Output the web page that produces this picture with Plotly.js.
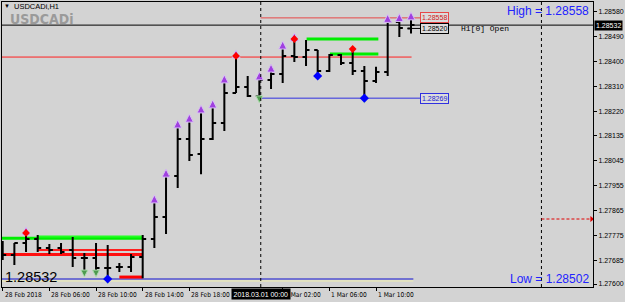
<!DOCTYPE html>
<html><head><meta charset="utf-8">
<script src="https://cdn.plot.ly/plotly-3.0.1.min.js"></script>
<style>html,body{margin:0;padding:0;background:#d3d3d3;}#chart{width:625px;height:302px;}</style>
</head><body><div id="chart"></div>
<script>
// ---- data (USDCADi, H1) ----
const barIndex = [0,1,2,3,4,5,6,7,8,9,10,11,12,13,14,15,16,17,18,19,20,21,22,23,24,25,26,27,28,29,30,31,32,33,34,35];
const openP  = [1.27730,1.27704,1.27748,1.27762,1.27730,1.27730,1.27722,1.27694,1.27694,1.27658,1.27661,1.27661,1.27697,1.27762,1.27841,1.27989,1.28122,1.28068,1.28122,1.28180,1.28288,1.28309,1.28277,1.28334,1.28356,1.28421,1.28417,1.28442,1.28367,1.28424,1.28396,1.28367,1.28331,1.28363,1.28543,1.28520];
const highP  = [1.27755,1.27748,1.27784,1.27776,1.27744,1.27748,1.27769,1.27712,1.27748,1.27740,1.27676,1.27708,1.27776,1.27899,1.27992,1.28169,1.28190,1.28223,1.28241,1.28331,1.28421,1.28349,1.28342,1.28370,1.28453,1.28482,1.28478,1.28442,1.28428,1.28428,1.28446,1.28385,1.28382,1.28549,1.28552,1.28558];
const lowP   = [1.27686,1.27668,1.27715,1.27715,1.27708,1.27708,1.27661,1.27643,1.27643,1.27618,1.27643,1.27643,1.27621,1.27730,1.27780,1.27946,1.28043,1.27995,1.28118,1.28151,1.28288,1.28273,1.28270,1.28302,1.28324,1.28399,1.28385,1.28349,1.28363,1.28388,1.28352,1.28269,1.28324,1.28349,1.28489,1.28502];
const closeP = [1.27704,1.27748,1.27762,1.27730,1.27722,1.27715,1.27694,1.27694,1.27658,1.27658,1.27661,1.27697,1.27762,1.27841,1.27989,1.28122,1.28064,1.28122,1.28180,1.28288,1.28309,1.28277,1.28334,1.28356,1.28421,1.28417,1.28442,1.28367,1.28424,1.28396,1.28367,1.28331,1.28363,1.28543,1.28522,1.28532];

const fractalUpBars   = [2,13,14,15,16,17,18,19,20,22,23,24,25,33,34,35];
const fractalDownBars = [7,8,9,22,31];
const swingHighBars   = [2,20,25,30];
const swingLowBars    = [9,27,31];

const xTickVals = [0,4,8,12,16,24,28,32];
const xTickText = ["28 Feb 2018","28 Feb 06:00","28 Feb 10:00","28 Feb 14:00","28 Feb 18:00","1 Mar 02:00","1 Mar 06:00","1 Mar 10:00"];
const yTickVals = [1.28580,1.28490,1.28400,1.28310,1.28220,1.28135,1.28045,1.27955,1.27865,1.27775,1.27685,1.27600];
const yTickText = ["1.28580","1.28490","1.28400","1.28310","1.28220","1.28135","1.28045","1.27955","1.27865","1.27775","1.27685","1.27600"];

const symbolName = "USDCADi";
const chartTitle = "USDCADi,H1";
const crossTimeLabel = "2018.03.01 00:00";
const dayStartBar = 22;
const dayHigh = 1.28558, dayLow = 1.28269;
const bidPrice = 1.28532, barOpenPrice = 1.28520, barLowPrice = 1.28502;
const pivotLevel = 1.28417;
const bottomLevel = 1.27618;
const alertLevel = 1.27834;
const zoneGreenLow = [1.27765, 1.27771];
const zoneRedLow = [1.27706, 1.27722];
const zoneRedShort = 1.27625;
const zoneGreenHigh = [1.28482, 1.28428];
const futureBar = 46.18;

// ---- geometry helpers (plot area 2..593 x, 2..287 y) ----
const PL=2, PR=593, PT=2, PB=287;
const px = v => (v-PL)/(PR-PL);
const py = v => (PB-v)/(PB-PT);
const XR = [-0.06, 50.6];
const YR = [1.275892, 1.286152];
const tick = 0.000036; // price per pixel

const FONT = "Liberation Sans, Arial, sans-serif";
const NARROW = "Liberation Sans Narrow, DejaVu Sans Condensed, Liberation Sans, sans-serif";

const traces = [
  {type:'ohlc', x:barIndex, open:openP, high:highP, low:lowP, close:closeP,
   increasing:{line:{color:'#000', width:2}}, decreasing:{line:{color:'#000', width:2}},
   tickwidth:0.3, hoverinfo:'skip'},
  {type:'scatter', mode:'markers', x:fractalUpBars, y:fractalUpBars.map(i=>highP[i]+6*tick),
   marker:{symbol:'arrow-up', size:8, color:'#a040e0', line:{color:'#d8c0f4', width:1}}, hoverinfo:'skip'},
  {type:'scatter', mode:'markers', x:fractalDownBars, y:fractalDownBars.map(i=>lowP[i]-5*tick),
   marker:{symbol:'arrow-down', size:7, color:'#4e9a4e', line:{color:'#b0dcb0', width:1}}, hoverinfo:'skip'},
  {type:'scatter', mode:'markers', x:swingHighBars, y:swingHighBars.map(i=>highP[i]),
   marker:{symbol:'diamond', size:6, color:'#ff0000', line:{width:0}}, hoverinfo:'skip'},
  {type:'scatter', mode:'markers', x:swingLowBars, y:swingLowBars.map(i=>lowP[i]),
   marker:{symbol:'diamond', size:7, color:'#0000ff', line:{width:0}}, hoverinfo:'skip'},
  {type:'scatter', mode:'markers', x:[XR[1]-0.12], y:[alertLevel], cliponaxis:false,
   marker:{symbol:'triangle-right', size:5, color:'#e00000'}, hoverinfo:'skip'}
];

const L = (x0,x1,y,color,width,dash) => ({type:'line', xref:'x', yref:'y', x0, x1, y0:y, y1:y, line:{color, width, dash:dash||'solid'}, layer:'below'});
const lastBar = barIndex[barIndex.length-1];
const shapes = [
  L(XR[0], lastBar+0.05, pivotLevel, '#ff2020', 1),
  L(XR[0], lastBar+0.2, bottomLevel, '#1010d0', 1.2),
  L(XR[0], lastBar+0.2, bottomLevel-2*tick, '#f0f0b0', 1),
  {type:'line', xref:'paper', yref:'y', x0:0, x1:1, y0:bidPrice, y1:bidPrice, line:{color:'#000', width:1}, layer:'below'},
  L(dayStartBar+0.1, lastBar+0.8, dayHigh, '#e84848', 1),
  L(dayStartBar+0.1, lastBar+0.8, dayLow, '#3030e0', 1),
  L(lastBar-0.3, lastBar+0.8, barOpenPrice, '#000', 1),
  L(XR[0], 12, zoneGreenLow[0], '#00ee00', 3),
  L(3, 12, zoneGreenLow[1], '#22ff22', 2),
  L(XR[0], 12, zoneRedLow[0], '#ff1010', 3),
  L(3, 12, zoneRedLow[1], '#ff2020', 2),
  L(10, 12, zoneRedShort, '#ff0000', 3),
  L(26.05, 32.2, zoneGreenHigh[0], '#00ee00', 3),
  L(28.05, 32.2, zoneGreenHigh[1], '#00ee00', 3),
  {type:'line', xref:'x', yref:'paper', x0:22.12, x1:22.12, y0:0, y1:1, line:{color:'#000', width:1, dash:'dot'}},
  {type:'line', xref:'x', yref:'paper', x0:futureBar, x1:futureBar, y0:0, y1:1, line:{color:'#000', width:1, dash:'dot'}},
  {type:'line', xref:'x', yref:'y', x0:futureBar, x1:XR[1]-0.3, y0:alertLevel, y1:alertLevel, line:{color:'#e00000', width:1, dash:'3px,2px'}}
];

const A = (o) => Object.assign({xref:'paper', yref:'paper', showarrow:false}, o);
const annotations = [
  A({x:px(2), y:py(6), xanchor:'left', yanchor:'middle', text:'▼', font:{family:FONT, size:6, color:'#000'}}),
  A({x:px(12), y:py(6), xanchor:'left', yanchor:'middle', text:chartTitle, font:{family:FONT, size:7.5, color:'#000'}}),
  A({x:px(8), y:py(19), xanchor:'left', yanchor:'middle', text:'<b>'+symbolName+'</b>', font:{family:NARROW, size:14, color:'#9a9a9a'}}),
  A({x:px(591), y:py(11), xanchor:'right', yanchor:'middle', text:'High = '+dayHigh.toFixed(5), font:{family:FONT, size:12, color:'#2222ff'}}),
  A({x:px(591), y:py(279), xanchor:'right', yanchor:'middle', text:'Low = '+barLowPrice.toFixed(5), font:{family:FONT, size:12, color:'#2222ff'}}),
  A({x:px(3), y:py(277), xanchor:'left', yanchor:'middle', text:bidPrice.toFixed(5), font:{family:FONT, size:14.5, color:'#000'}}),
  A({x:px(459), y:py(29), xanchor:'left', yanchor:'middle', text:'H1[0] Open', font:{family:'Liberation Mono, DejaVu Sans Mono, monospace', size:8, color:'#000'}}),
  A({xref:'x', yref:'y', x:lastBar+0.8, y:dayHigh, xanchor:'left', yanchor:'middle', text:dayHigh.toFixed(5), font:{family:FONT, size:7, color:'#d02020'}, bgcolor:'#dcdcdc', bordercolor:'#e84848', borderwidth:1, borderpad:1}),
  A({xref:'x', yref:'y', x:lastBar+0.8, y:barOpenPrice, xanchor:'left', yanchor:'middle', text:barOpenPrice.toFixed(5), font:{family:FONT, size:7, color:'#000'}, bgcolor:'#dcdcdc', bordercolor:'#000', borderwidth:1, borderpad:1}),
  A({xref:'x', yref:'y', x:lastBar+0.8, y:dayLow, xanchor:'left', yanchor:'middle', text:dayLow.toFixed(5), font:{family:FONT, size:7, color:'#2020d0'}, bgcolor:'#dcdcdc', bordercolor:'#3030e0', borderwidth:1, borderpad:1}),
  A({x:1, yref:'y', y:bidPrice, xanchor:'left', yanchor:'middle', xshift:1, text:bidPrice.toFixed(5), font:{family:FONT, size:7, color:'#fff'}, bgcolor:'#000', borderpad:1})
];
// x-axis tick labels: MT4 draws them to the right of each tick mark
xTickVals.forEach((v,k)=>annotations.push(A({xref:'x', x:v, y:0, xanchor:'left', yanchor:'top', xshift:0, yshift:-2,
  text:xTickText[k], font:{family:NARROW, size:6.6, color:'#000'}})));
annotations.push(A({xref:'x', x:22.12, y:0, xanchor:'center', yanchor:'top', yshift:-1, text:crossTimeLabel,
  font:{family:FONT, size:7, color:'#fff'}, bgcolor:'#000', borderpad:1.5}));

const layout = {
  width:625, height:302,
  margin:{l:PL, r:625-PR, t:PT, b:302-PB, pad:0},
  paper_bgcolor:'#d3d3d3', plot_bgcolor:'#d3d3d3',
  showlegend:false,
  xaxis:{range:XR, showgrid:false, zeroline:false, showline:true, linecolor:'#000', linewidth:1, mirror:true,
         ticks:'outside', ticklen:3, tickcolor:'#000', tickvals:xTickVals, showticklabels:false,
         rangeslider:{visible:false}, fixedrange:true},
  yaxis:{range:YR, side:'right', showgrid:false, zeroline:false, showline:true, linecolor:'#000', linewidth:1, mirror:true,
         ticks:'outside', ticklen:3, tickcolor:'#000', tickvals:yTickVals, ticktext:yTickText,
         tickfont:{family:FONT, size:7, color:'#000'}, fixedrange:true},
  shapes, annotations
};
Plotly.newPlot('chart', traces, layout, {staticPlot:true, displayModeBar:false});
</script></body></html>
